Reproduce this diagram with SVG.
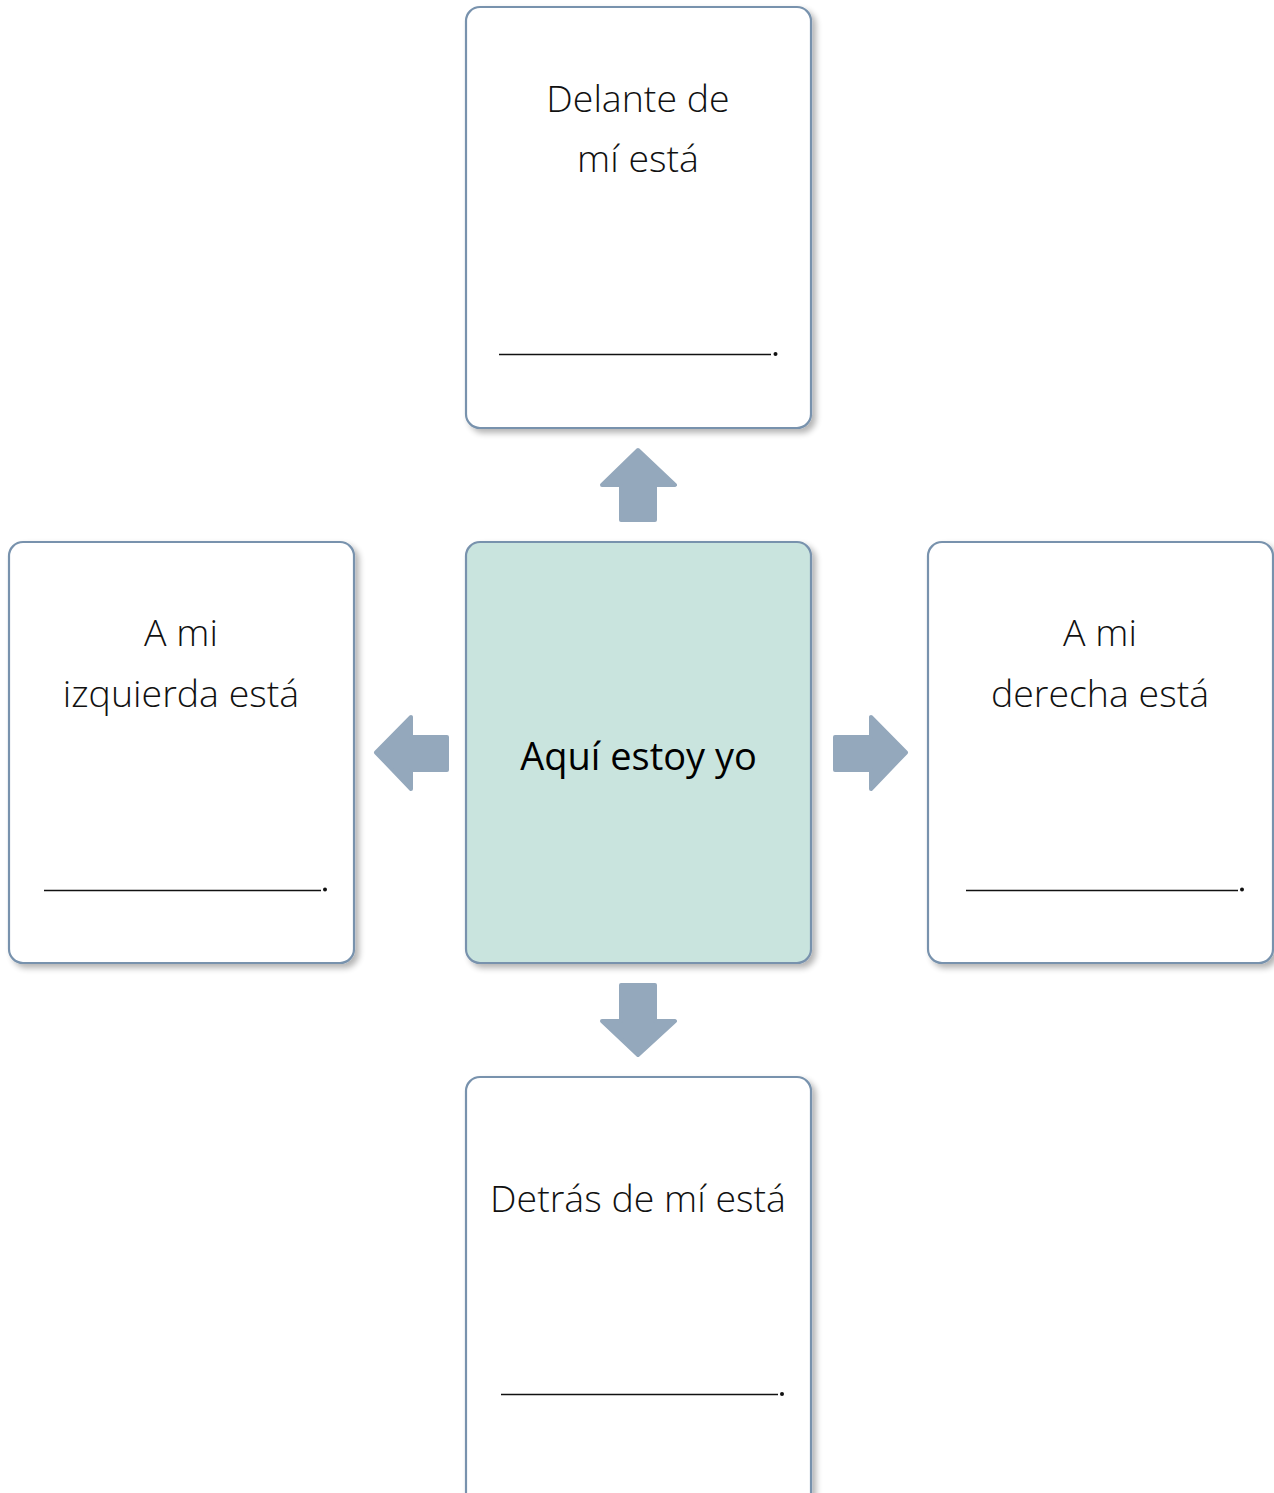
<svg xmlns="http://www.w3.org/2000/svg" width="1274" height="1493" viewBox="0 0 1274 1493">
<style>
.box{fill:#ffffff;stroke:#7892ad;stroke-width:2.2;filter:url(#sh)}
.center{fill:#c9e4de}
.lbl{font-family:"Open Sans","Lato","Liberation Sans",sans-serif;font-weight:300;font-size:37.5px;fill:#111;text-anchor:middle}
.main{font-family:"Open Sans","Lato","Liberation Sans",sans-serif;font-weight:400;font-size:38px;fill:#000;text-anchor:middle}
.blank{stroke:#111;stroke-width:1.6}
.arrow{fill:#94a8bc;stroke:#94a8bc;stroke-width:4;stroke-linejoin:round}
</style>
<defs>
<filter id="sh" x="-10%" y="-10%" width="130%" height="130%">
<feGaussianBlur in="SourceAlpha" stdDeviation="3"/>
<feOffset dx="4" dy="4" result="b"/>
<feComponentTransfer><feFuncA type="linear" slope="0.3"/></feComponentTransfer>
<feMerge><feMergeNode/><feMergeNode in="SourceGraphic"/></feMerge>
</filter>
</defs>
<rect width="1274" height="1493" fill="#ffffff"/>
<g id="connectors">
<path class="arrow" d="M638,450 L675,485 L655,485 L655,520 L621,520 L621,485 L602,485 Z"/>
<path class="arrow" d="M638,1055 L675,1021 L655,1021 L655,985 L621,985 L621,1021 L602,1021 Z"/>
<path class="arrow" d="M376,752.5 L411,717 L411,737 L447,737 L447,770 L411,770 L411,789 Z"/>
<path class="arrow" d="M906,752.5 L871,717 L871,737 L835,737 L835,770 L871,770 L871,789 Z"/>
</g>
<g id="node-top">
<rect class="box" x="466" y="7" width="345" height="421" rx="14"/>
<text class="lbl" x="638" y="112">Delante de</text>
<text class="lbl" x="638" y="172">mí está</text>
<line class="blank" x1="499" y1="354.5" x2="771" y2="354.5"/>
<circle cx="775.5" cy="354" r="2" fill="#111"/>
</g>
<g id="node-center">
<rect class="box center" x="466" y="542" width="345" height="421" rx="14"/>
<text class="main" x="638.5" y="770">Aquí estoy yo</text>
</g>
<g id="node-left">
<rect class="box" x="9" y="542" width="345" height="421" rx="14"/>
<text class="lbl" x="181" y="646">A mi</text>
<text class="lbl" x="181" y="707">izquierda está</text>
<line class="blank" x1="44" y1="890.5" x2="321" y2="890.5"/>
<circle cx="325" cy="889.5" r="2" fill="#111"/>
</g>
<g id="node-right">
<rect class="box" x="928" y="542" width="345" height="421" rx="14"/>
<text class="lbl" x="1100" y="646">A mi</text>
<text class="lbl" x="1100" y="707">derecha está</text>
<line class="blank" x1="966" y1="890.5" x2="1238" y2="890.5"/>
<circle cx="1242" cy="889.5" r="2" fill="#111"/>
</g>
<g id="node-bottom">
<rect class="box" x="466" y="1077" width="345" height="440" rx="14"/>
<text class="lbl" x="638" y="1212">Detrás de mí está</text>
<line class="blank" x1="501" y1="1394.5" x2="778" y2="1394.5" stroke="#333"/>
<circle cx="782" cy="1394" r="2" fill="#111"/>
</g>
</svg>
